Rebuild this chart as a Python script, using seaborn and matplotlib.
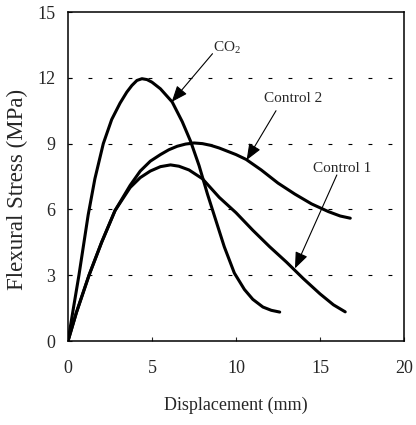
import pandas as pd
import seaborn as sns
import matplotlib.pyplot as plt

# curvas (desplazamiento mm, esfuerzo MPa)
co2_x = [0, 0.3, 0.65, 1.2, 1.6, 2.1, 2.6, 3.1, 3.5, 3.8, 4.1, 4.4, 4.7, 5.0, 5.5, 6.2, 6.8, 7.3,
         7.8, 8.3, 8.8, 9.3, 9.9, 10.5, 11.0, 11.6, 12.1, 12.6]
co2_y = [0, 1.4, 3.0, 5.75, 7.4, 9.0, 10.1, 10.85, 11.35, 11.65, 11.88, 11.96, 11.92, 11.8, 11.5, 10.9, 10.0, 9.1,
         8.0, 6.7, 5.5, 4.3, 3.1, 2.35, 1.9, 1.55, 1.4, 1.32]

c2_x = [0, 0.5, 1.25, 2.0, 2.8, 3.7, 4.3, 4.9, 5.5, 6.0, 6.5, 7.0, 7.5, 8.0, 8.5, 9.0, 10.0, 10.6, 11.5,
        12.5, 13.5, 14.5, 15.5, 16.2, 16.8]
c2_y = [0, 1.3, 3.0, 4.5, 5.95, 7.1, 7.75, 8.2, 8.5, 8.72, 8.88, 8.98, 9.03, 9.0, 8.92, 8.8, 8.5, 8.28, 7.8,
        7.2, 6.7, 6.25, 5.9, 5.7, 5.6]

c1_x = [0, 0.5, 1.25, 2.0, 2.8, 3.7, 4.3, 4.9, 5.5, 6.1, 6.6, 7.2, 8.0, 9.0, 10.0, 11.0, 12.0,
        13.0, 14.0, 15.0, 15.8, 16.5]
c1_y = [0, 1.3, 3.0, 4.5, 5.95, 7.0, 7.45, 7.75, 7.95, 8.03, 7.97, 7.8, 7.4, 6.55, 5.85, 5.05, 4.3,
        3.6, 2.85, 2.15, 1.65, 1.33]

series = ["CO2", "Control 2", "Control 1"]
etiquetas = ["CO$_2$", "Control 2", "Control 1"]
pos_texto = [(9.45, 13.35), (13.4, 11.07), (16.3, 7.87)]
inicio_flecha = [(8.6, 13.1), (12.38, 10.5), (16.0, 7.57)]
punta_flecha = [(6.17, 10.9), (10.63, 8.25), (13.51, 3.31)]

x_ticks = [0, 5, 10, 15, 20]
y_ticks = [0, 3, 6, 9, 12, 15]

df = pd.concat([
    pd.DataFrame({"x": co2_x, "y": co2_y, "serie": "CO2"}),
    pd.DataFrame({"x": c2_x, "y": c2_y, "serie": "Control 2"}),
    pd.DataFrame({"x": c1_x, "y": c1_y, "serie": "Control 1"}),
])

sns.set_theme(style="ticks")
plt.rcParams["font.family"] = ["Liberation Serif", "DejaVu Serif"]
plt.rcParams["mathtext.fontset"] = "custom"
plt.rcParams["mathtext.rm"] = "Liberation Serif"
plt.rcParams["mathtext.it"] = "Liberation Serif"
plt.rcParams["mathtext.default"] = "regular"

fig = plt.figure(figsize=(4.16, 4.25), dpi=100)
ax = fig.add_axes([0.1635, 0.1976, 0.8077, 0.7741])

# rejilla punteada
for g in y_ticks[1:-1]:
    ax.axhline(g, color="black", lw=0.8, linestyle=(0, (3.5, 14.5)), zorder=1)

sns.lineplot(data=df, x="x", y="y", hue="serie", hue_order=series,
             palette=["black"] * 3, sort=False, estimator=None,
             linewidth=2.2, legend=False, ax=ax, zorder=3)

for lab, pt, st, tip in zip(etiquetas, pos_texto, inicio_flecha, punta_flecha):
    ax.text(pt[0], pt[1], lab, fontsize=11, ha="center", va="center")
    ax.annotate("", xy=tip, xytext=st,
                arrowprops=dict(arrowstyle="-|>,head_length=0.55,head_width=0.22",
                                mutation_scale=18, color="black", lw=0.8,
                                shrinkA=0, shrinkB=0))

ax.set_xlim(0, 20)
ax.set_ylim(0, 15)
ax.set_xticks(x_ticks)
ax.set_yticks(y_ticks)
ax.tick_params(axis="both", direction="in", length=3, width=0.8, labelsize=13)
ax.tick_params(axis="x", pad=14)
ax.tick_params(axis="y", pad=9)
for s in ax.spines.values():
    s.set_linewidth(1.1)
    s.set_color("black")

ax.set_xlabel("Displacement (mm)", fontsize=13, labelpad=14)
ax.set_ylabel("Flexural Stress (MPa)", fontsize=16.5)
ax.yaxis.set_label_coords(-0.12, 0.462)

fig.savefig("out.png", dpi=100)
